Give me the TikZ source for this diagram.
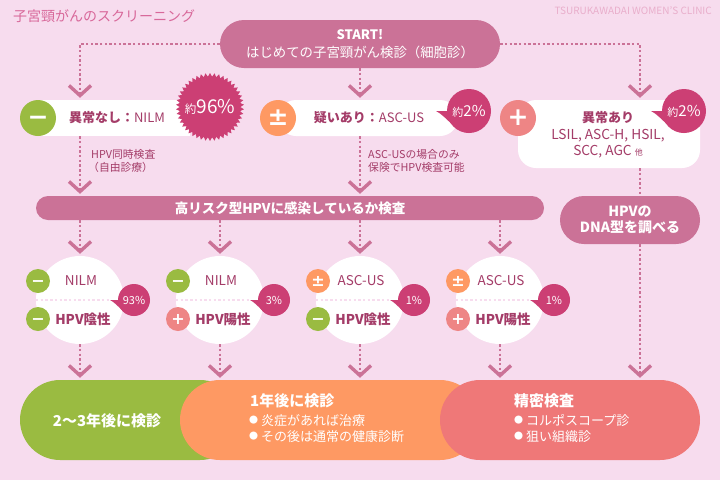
\documentclass[tikz,border=0pt]{standalone}
\usepackage{fontspec}
\setmainfont{Noto Sans CJK JP}
\newfontfamily\signfont{DejaVu Sans}
\usetikzlibrary{arrows.meta,shapes.geometric}
\definecolor{bgc}{HTML}{F7DCEE}
\definecolor{pillc}{HTML}{CB7297}
\definecolor{txtc}{HTML}{A43C68}
\definecolor{hotc}{HTML}{CC3F74}
\definecolor{greenc}{HTML}{9ABB41}
\definecolor{orangec}{HTML}{FE9963}
\definecolor{salmonc}{HTML}{EF7878}
\definecolor{plusc}{HTML}{EE8585}
\definecolor{titlec}{HTML}{D8689A}
\definecolor{clinicc}{HTML}{E9AECB}
\definecolor{sepc}{HTML}{F7DCEE}
\newcommand{\fs}[1]{\fontsize{#1}{#1}\selectfont}
\newcommand{\sgn}[1]{\raisebox{-0.314em}[0pt][0pt]{#1}}
\newcommand{\blt}{{\raisebox{1.5pt}{\fs{9}●}\hspace{3pt}}}
\newcommand{\dropbadge}[6]{%
  \fill[hotc] ({#2-1.5*#4},#3) .. controls ({#2-1.0*#4},{#3+0.25*#4}) and ({#2-0.7*#4},{#3+0.9*#4}) .. (#2,{#3+#4}) -- (#2,#3) -- cycle;
  \node[circle,fill=hotc,minimum size={2*#4 pt},inner sep=0pt,text=white,font=\fs{#6}] (#1) at (#2,#3) {#5};}
\tikzset{
  pill/.style={fill=pillc,text=white,inner sep=0pt,align=center},
  whitebar/.style={fill=white,inner sep=0pt},
  lbl/.style={text=txtc,inner sep=0pt,align=center},
  sign/.style={circle,text=white,inner sep=0pt,minimum size=36pt,font=\signfont\bfseries\fs{25}},
  smallsign/.style={circle,text=white,inner sep=0pt,minimum size=24pt,font=\signfont\bfseries\fs{16}},
  roundnode/.style={circle,fill=white,minimum size=88pt,inner sep=0pt},
  conn/.style={draw=pillc,line width=2.6pt,dash pattern=on 2.4pt off 2.3pt,
    -{Straight Barb[length=10pt,width=22pt,line width=3.4pt]},shorten >=2pt},
  plain/.style={draw=pillc,line width=2.6pt,dash pattern=on 2.4pt off 2.3pt},
  result/.style={minimum height=80pt,rounded corners=40pt,inner sep=0pt},
  sep/.style={draw=sepc,line width=2.5pt,dash pattern=on 2.4pt off 2.3pt},
  restext/.style={text=white,inner sep=0pt,align=left},
  reslist/.style={restext,anchor=north west,font=\fontsize{13}{16}\selectfont}
}
\begin{document}
\begin{tikzpicture}[x=1pt,y=-1pt]
\useasboundingbox (0,0) rectangle (720,480);
\fill[bgc] (0,0) rectangle (720,480);
\node[text=titlec,inner sep=0pt,anchor=west,font=\fs{14}] (title) at (13,16) {子宮頸がんのスクリーニング};
\node[text=clinicc,inner sep=0pt,anchor=east,font=\fs{10}] (clinic) at (712,11) {TSURUKAWADAI WOMEN'S CLINIC};

% start
\node[pill,minimum width=280pt,minimum height=48pt,rounded corners=24pt,font=\fs{13}] (start) at (360,44)
  {\bfseries START!\\[5pt]\fs{13.4}はじめての子宮頸がん検診（細胞診）};

% first row
\node[whitebar,minimum width=152pt,minimum height=36pt] (barA) at (114,118) {};
\node[whitebar,minimum width=180pt,minimum height=36pt,rounded corners=18pt] (barB) at (368,118) {};
\node[whitebar,minimum width=182pt,minimum height=68pt,rounded corners=18pt] (barC) at (609,134) {};
\node[sign,fill=greenc] (sA) at (38,118) {\sgn{−}};
\node[sign,fill=orangec] (sB) at (278,118) {\sgn{±}};
\node[sign,fill=plusc] (sC) at (518,118) {\sgn{+}};
\node[lbl,font=\fs{13}] (tA) at (117,118) {{\bfseries 異常なし：}NILM};
\node[lbl,font=\fs{13}] (tB) at (369,118) {{\bfseries 疑いあり：}ASC-US};
\node[lbl,font=\fs{13.7}] (tC) at (608,135) {{\fs{13}\bfseries 異常あり}\\[3pt]LSIL, ASC-H, HSIL,\\[3pt]SCC, AGC {\fs{8}他}};
\node[star,star points=46,star point ratio=1.12,fill=hotc,minimum size=68pt,inner sep=0pt] (burst) at (210,107) {};
\node[text=white,inner sep=0pt,font=\fs{19}] (burstt) at (210,107) {{\fs{11.5}約}96\%};
\dropbadge{dB}{469}{111}{22}{{\fs{11}約}2\%}{15}
\dropbadge{dC}{684}{111}{22}{{\fs{11}約}2\%}{15}

% notes
\node[lbl,align=left,anchor=west,font=\fs{10.8}] (nA) at (91,161) {HPV同時検査\\[2pt]\hspace{-3pt}（自由診療）};
\node[lbl,align=left,anchor=west,font=\fs{10.8}] (nB) at (368,161) {ASC-USの場合のみ\\[2pt]保険でHPV検査可能};

% second row
\node[pill,minimum width=508pt,minimum height=24pt,rounded corners=12pt,font=\bfseries\fs{13.5}] (risk) at (290,208) {高リスク型HPVに感染しているか検査};
\node[pill,minimum width=140pt,minimum height=48pt,rounded corners=24pt,font=\bfseries\fs{14}] (dna) at (630,220) {HPVの\\[2pt]DNA型を調べる};

% round nodes
\foreach \nm/\x/\a/\acol/\asign/\b/\bcol/\bsign/\p in {
  r1/80/NILM/greenc/−/陰性/greenc/−/93\%,
  r2/220/NILM/greenc/−/陽性/plusc/+/3\%,
  r3/360/ASC-US/orangec/±/陰性/greenc/−/1\%,
  r4/500/ASC-US/orangec/±/陽性/plusc/+/1\%}{
  \node[roundnode] (\nm) at (\x,300) {};
  \draw[sep] ({\x-44},300) -- ({\x+30},300);
  \node[smallsign,fill=\acol] (\nm a) at ({\x-42},281) {\sgn{\asign}};
  \node[smallsign,fill=\bcol] (\nm b) at ({\x-42},319) {\sgn{\bsign}};
  \node[lbl,font=\fs{13.5}] (\nm t) at ({\x+1},281) {\a};
  \node[lbl,font=\fs{13.5}\bfseries] (\nm u) at ({\x+3},319) {HPV\b};
  \dropbadge{\nm d}{\x+54}{300}{16}{\p}{11}
}

% results
\node[result,fill=greenc,minimum width=220pt] (gr) at (130,420) {};
\node[result,fill=orangec,minimum width=300pt] (or) at (330,420) {};
\node[result,fill=salmonc,minimum width=260pt] (sa) at (570,420) {};
\node[restext,font=\fs{15}\bfseries] (grt) at (107,421) {2〜3年後に検診};
\node[restext,anchor=west,font=\fs{15}\bfseries] (ort) at (250,401) {1年後に検診};
\node[reslist] (orl) at (249,414) {\blt 炎症があれば治療\\\blt その後は通常の健康診断};
\node[restext,anchor=west,font=\fs{15}\bfseries] (sat) at (514,401) {精密検査};
\node[reslist] (sal) at (514,414) {\blt コルポスコープ診\\\blt 狙い組織診};

% connectors
\draw[conn] (start.west) -| (80,0 |- barA.north);
\draw[conn] (start.east) -| (640,0 |- barC.north);
\draw[conn] (start.south) -- (360,0 |- barB.north);
\draw[conn] (80,0 |- barA.south) -- (80,0 |- risk.north);
\draw[conn] (360,0 |- barB.south) -- (360,0 |- risk.north);
\draw[plain] (640,0 |- barC.south) -- (640,0 |- dna.north);
\foreach \nm/\x in {r1/80,r2/220,r3/360,r4/500}{
  \draw[conn] (\x,0 |- risk.south) -- (\nm.north);
}
\draw[conn] (r1.south) -- (80,0 |- gr.north);
\draw[conn] (r2.south) -- (220,0 |- or.north);
\draw[conn] (r3.south) -- (360,0 |- or.north);
\draw[conn] (r4.south) -- (500,0 |- sa.north);
\draw[conn] (640,0 |- dna.south) -- (640,0 |- sa.north);
\end{tikzpicture}
\end{document}
